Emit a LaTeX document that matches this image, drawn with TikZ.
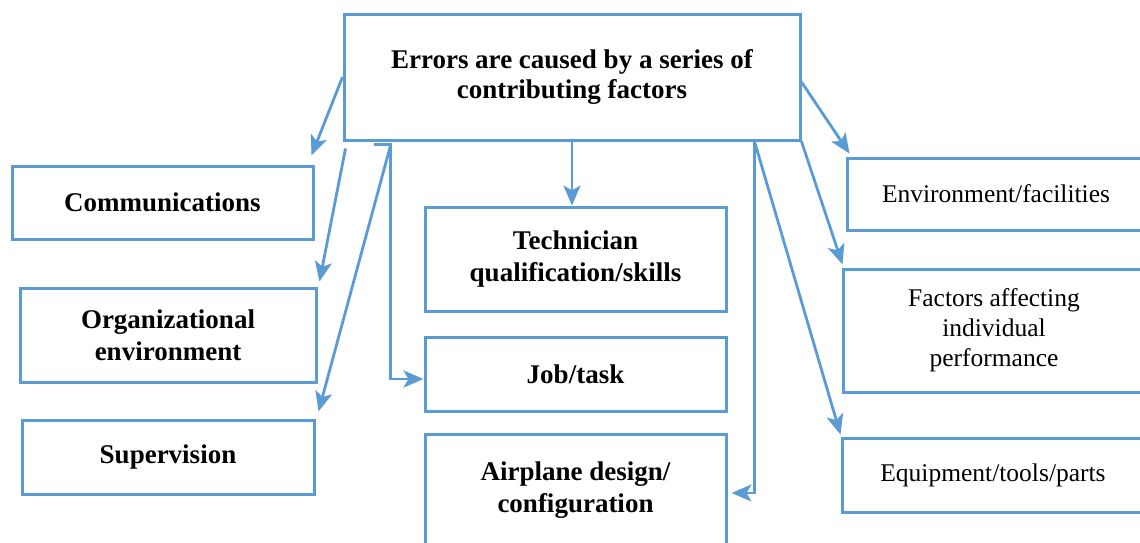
\documentclass[tikz,border=0pt]{standalone}
\usepackage{fontspec}
\setmainfont{Liberation Serif}
\usetikzlibrary{arrows.meta,calc}
\definecolor{lb}{RGB}{91,155,213}
\begin{document}
\begin{tikzpicture}[x=1pt,y=-1pt,
  box/.style={draw=lb,line width=3pt,inner sep=0pt,align=center,
    font=\bfseries\fontsize{27}{32}\selectfont},
  rbox/.style={draw=lb,line width=3pt,inner sep=0pt,align=center,
    font=\fontsize{25.5}{30}\selectfont},
  conn/.style={draw=lb,line width=2.8pt,-{Stealth[length=20pt,width=17pt,inset=5pt]}}]
\useasboundingbox (0,0) rectangle (1140,542);
\clip (0,0) rectangle (1140,542);
\fill[white] (0,0) rectangle (1140,542);
\node[box,minimum width=456pt,minimum height=126pt,
  font=\bfseries\fontsize{27}{30}\selectfont] (top) at (572,77)
  {Errors are caused by a series of\\contributing factors};
\node[box,minimum width=301pt,minimum height=73pt] (comm) at (162.5,202.5) {Communications};
\node[box,minimum width=296pt,minimum height=94pt] (org) at (168,335) {Organizational\\environment};
\node[box,minimum width=292pt,minimum height=74pt] (sup) at (168,457) {Supervision};
\node[box,minimum width=301pt,minimum height=104pt] (tech) at (575.5,259) {Technician\\qualification/skills};
\node[box,minimum width=301pt,minimum height=74pt] (job) at (575.5,374) {Job/task};
\node[box,minimum width=301pt,minimum height=112pt] (air) at (575.5,490) {Airplane design/\\configuration};
\node[rbox,minimum width=298pt,minimum height=72pt] (env) at (996,194) {Environment/facilities};
\node[rbox,minimum width=302pt,minimum height=123pt] (fac) at (994,330.5) {Factors affecting\\individual\\performance};
\node[rbox,minimum width=302pt,minimum height=74pt] (equ) at (993,475) {Equipment/tools/parts};

\draw[conn] (top.west) -- ($(comm.north east)+(-3,-9)$);
\draw[conn] ($(top.south west)+(3,7)$) -- ($(org.north east)+(2,-5)$);
\draw[conn] ($(top.south west)+(48,4)$) -- ($(sup.north east)+(3,-7)$);
\draw[conn] ($(top.south west)+(31,3)$) -- ($(top.south west)+(48,3)$) |- ($(job.west)+(0,5)$);
\draw[conn] (top.south) -- (top.south |- tech.north);
\draw[conn] ($(top.south east)+(-47,0)$) |- ($(air.east)+(4,3)$);
\draw[conn] ($(top.east)+(0,5)$) -- ($(env.north west)+(4,-3)$);
\draw[conn] (top.south east) -- ($(fac.north west)+(1,-3)$);
\draw[conn] ($(top.south east)+(-47,0)$) -- ($(equ.north west)+(0,-2)$);
\end{tikzpicture}
\end{document}
